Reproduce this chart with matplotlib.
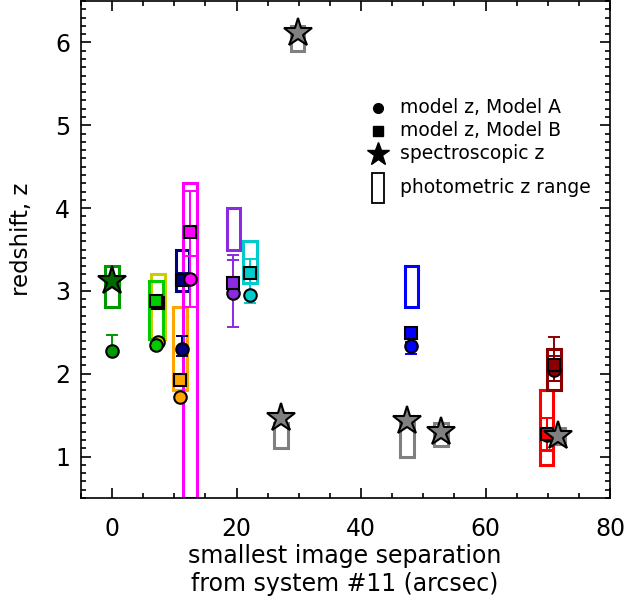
import matplotlib
matplotlib.use("Agg")
import matplotlib.pyplot as plt
from matplotlib.patches import Rectangle
from matplotlib.ticker import MultipleLocator
import numpy as np

# ---------------- data ----------------
colors   = ["#009900", "#cccc00", "#00cc00", "#ffa500", "#000080", "#ff00ff",
            "#8a2be2", "#00cccc", "#808080", "#808080", "#808080", "#0000ff",
            "#808080", "#ff0000", "#8b0000", "#808080"]
sep      = [0.0, 7.4, 7.0, 10.9, 11.3, 12.55, 19.5, 22.1, 27.1, 29.8, 47.4, 48.1,
            52.9, 69.8, 71.0, 71.6]
phot_lo  = [2.8, 2.42, 2.42, 1.8, 3.0, 0.5, 3.5, 3.1, 1.1, 5.9, 1.0, 2.8,
            1.13, 0.9, 1.8, 1.15]
phot_hi  = [3.3, 3.2, 3.12, 2.8, 3.5, 4.3, 4.0, 3.6, 1.4, 6.2, 1.4, 3.3,
            1.4, 1.8, 2.3, 1.35]
# model A (circles): value, lower err, upper err  (nan = none)
zA       = [2.28, 2.38, 2.35, 1.72, 2.30, 3.14, 2.97, 2.95, np.nan, np.nan, np.nan, 2.33,
            np.nan, 1.26, 2.05, np.nan]
zA_elo   = [0.0, 0.05, 0.05, 0.0, 0.09, 0.33, 0.40, 0.09, 0, 0, 0, 0.09, 0, 0.18, 0.14, 0]
zA_ehi   = [0.19, 0.05, 0.05, 0.0, 0.16, 0.28, 0.46, 0.14, 0, 0, 0, 0.05, 0, 0.21, 0.39, 0]
# model B (squares)
zB       = [np.nan, 2.86, 2.88, 1.93, 3.13, 3.71, 3.10, 3.22, np.nan, np.nan, np.nan, 2.49,
            np.nan, 1.27, 2.10, np.nan]
zB_elo   = [0, 0.05, 0.05, 0.0, 0.05, 0.29, 0.10, 0.13, 0, 0, 0, 0.05, 0, 0.2, 0.19, 0]
zB_ehi   = [0, 0.05, 0.05, 0.0, 0.09, 0.50, 0.27, 0.17, 0, 0, 0, 0.07, 0, 0.2, 0.12, 0]
# spectroscopic (stars)
zspec    = [3.12, np.nan, np.nan, np.nan, np.nan, np.nan, np.nan, np.nan, 1.46, 6.11, 1.43, np.nan,
            1.30, np.nan, np.nan, 1.25]
star_col = ["#006600"] + ["#808080"] * 15

xticks = [0, 20, 40, 60, 80]
yticks = [1, 2, 3, 4, 5, 6]
legend_labels = ["model z, Model A", "model z, Model B", "spectroscopic z",
                 "photometric z range"]
xlabel = "smallest image separation\nfrom system #11 (arcsec)"
ylabel = "redshift, z"

# ---------------- figure ----------------
fig = plt.figure(figsize=(6.29, 6.15), dpi=100)
ax = fig.add_axes([81 / 629, 1 - 498 / 615, 529 / 629, 497 / 615])
ax.set_xlim(-5, 80)
ax.set_ylim(0.5, 6.5)

box_w = 2.2
for i in range(len(sep)):
    ax.add_patch(Rectangle((sep[i] - box_w / 2, phot_lo[i]), box_w,
                           phot_hi[i] - phot_lo[i], fill=False,
                           edgecolor=colors[i], lw=2.2, zorder=2))

for i in range(len(sep)):
    if not np.isnan(zB[i]):
        ax.errorbar(sep[i], zB[i], yerr=[[zB_elo[i]], [zB_ehi[i]]], fmt="none",
                    ecolor=colors[i], elinewidth=1.4, capsize=4, capthick=1.4, zorder=3)
    if not np.isnan(zA[i]):
        ax.errorbar(sep[i], zA[i], yerr=[[zA_elo[i]], [zA_ehi[i]]], fmt="none",
                    ecolor=colors[i], elinewidth=1.4, capsize=4, capthick=1.4, zorder=3)

for i in range(len(sep)):
    if not np.isnan(zA[i]):
        ax.plot(sep[i], zA[i], "o", ms=9, mfc=colors[i], mec="black", mew=1.5, zorder=4 + i * 0.01)
    if not np.isnan(zB[i]):
        ax.plot(sep[i], zB[i], "s", ms=9, mfc=colors[i], mec="black", mew=1.5, zorder=4.005 + i * 0.01)
for i in range(len(sep)):
    if not np.isnan(zspec[i]):
        ax.plot(sep[i], zspec[i], "*", ms=21, mfc=star_col[i], mec="black", mew=1.5, zorder=6)

# legend (drawn manually)
lx, tx = 0.561, 0.603
ly = [0.785, 0.739, 0.693, 0.624]
ax.plot(lx, ly[0], "o", ms=7, color="black", transform=ax.transAxes, clip_on=False)
ax.plot(lx, ly[1], "s", ms=7, color="black", transform=ax.transAxes, clip_on=False)
ax.plot(lx, ly[2], "*", ms=17, color="black", transform=ax.transAxes, clip_on=False)
ax.add_patch(Rectangle((lx - 0.0115, ly[3] - 0.030), 0.023, 0.060, fill=False,
                       edgecolor="black", lw=1.3, transform=ax.transAxes))
for yy, lab in zip(ly, legend_labels):
    ax.text(tx, yy, lab, transform=ax.transAxes, fontsize=13.5, va="center", ha="left")

# axes styling
ax.set_xticks(xticks)
ax.set_yticks(yticks)
ax.xaxis.set_minor_locator(MultipleLocator(5))
ax.yaxis.set_minor_locator(MultipleLocator(0.1))
ax.tick_params(which="both", direction="in", top=True, right=True, width=1.2)
ax.tick_params(which="major", length=7, labelsize=17)
ax.tick_params(which="minor", length=3.5)
ax.tick_params(axis="x", pad=14)
ax.tick_params(axis="y", pad=8)
for s in ax.spines.values():
    s.set_linewidth(1.2)
ax.set_xlabel(xlabel, fontsize=17, linespacing=1.25)
ax.set_ylabel(ylabel, fontsize=16.5)
ax.xaxis.set_label_coords(0.499, -0.092)
ax.yaxis.set_label_coords(-0.09, 0.52)

fig.savefig("out.png", dpi=100)
